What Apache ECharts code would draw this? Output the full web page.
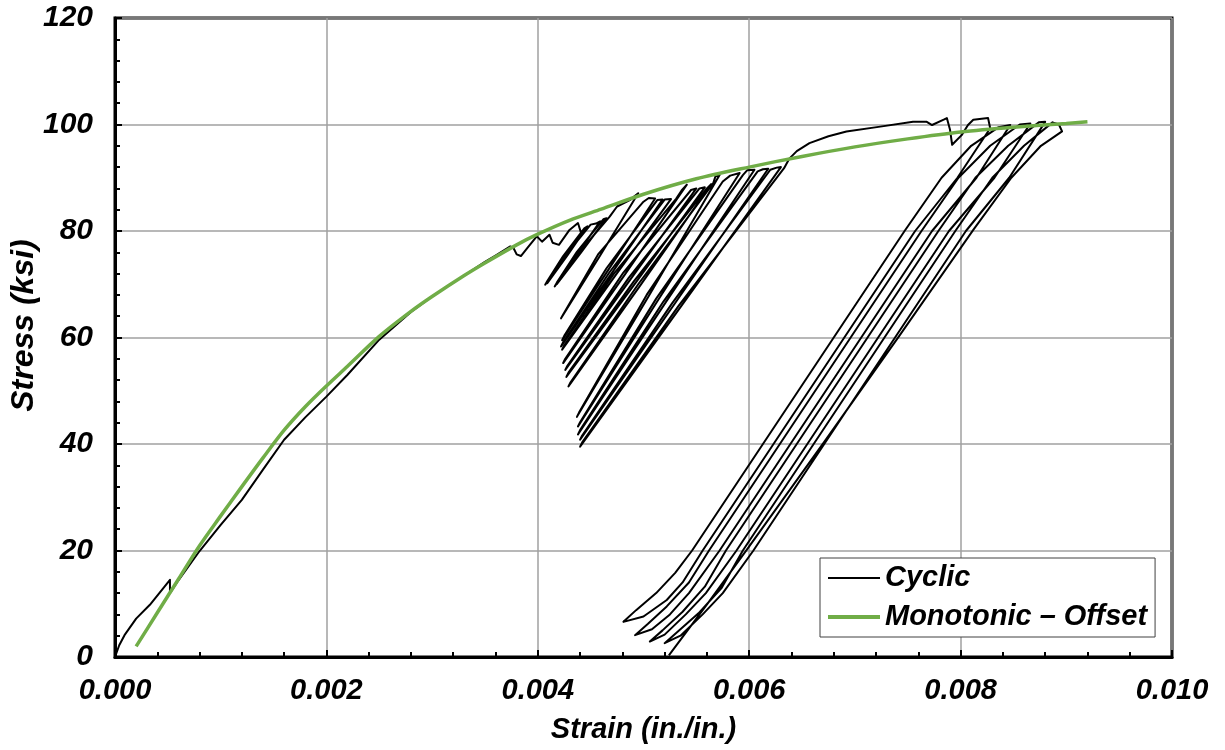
<!DOCTYPE html>
<html lang="en">

<head>
  <meta charset="UTF-8">
  <title>Stress-Strain</title>
  <script src="https://cdn.jsdelivr.net/npm/echarts@6/dist/echarts.min.js"></script>
</head>

<body style="margin: 0;padding: 0;background: #fff;">
  <div id="main" style="width: 1225px;height: 750px;"></div>
  <script>
    // [strain, stress] pairs
    var monotonic = [
      [0.0002, 2.0], [0.0004, 8.3], [0.0006, 14.6], [0.0008, 20.9], [0.001, 26.5], [0.0012, 32.0],
      [0.0014, 37.4], [0.0016, 42.6], [0.0018, 47.0], [0.002, 50.9], [0.0022, 54.6], [0.0025, 60.2],
      [0.0028, 64.9], [0.003, 67.7], [0.0033, 71.6], [0.0035, 74.0], [0.0038, 77.4], [0.004, 79.4],
      [0.0043, 82.0], [0.0046, 84.1], [0.005, 86.9], [0.0055, 89.8], [0.006, 92.0], [0.0065, 94.0],
      [0.007, 95.8], [0.0075, 97.3], [0.008, 98.6], [0.0085, 99.5], [0.009, 100.2], [0.0092, 100.5]
    ];

    var cyclicInitial = [
      [0, 0], [0.00004, 2.2], [0.00009, 4.1], [0.0002, 7.2], [0.00033, 9.8], [0.00052, 14.5], [0.00052, 12.0],
      [0.0006, 14.4], [0.0008, 19.9], [0.001, 24.8], [0.0012, 29.5], [0.0014, 35.2], [0.0016, 40.8],
      [0.0018, 45.0], [0.002, 48.9], [0.0022, 53.0], [0.0025, 59.6], [0.0028, 64.8], [0.003, 67.7],
      [0.0033, 71.6], [0.0035, 74.2], [0.0036, 75.4], [0.00374, 77.1], [0.00377, 76.8], [0.0038, 75.6],
      [0.00384, 75.3], [0.0039, 76.8], [0.00399, 79.0], [0.00404, 78.0], [0.00411, 79.3], [0.00414, 77.8],
      [0.0042, 77.4], [0.0043, 80.2], [0.00438, 81.5], [0.00441, 79.6]
    ];

    var cyclicGroup1 = [
      [0.00425, 75.0], [0.00407, 69.9], [0.00409, 70.6], [0.00424, 75.3], [0.00444, 80.5],
      [0.00447, 80.9], [0.00428, 75.4], [0.00409, 70.2], [0.00411, 70.9], [0.00427, 75.6], [0.0045, 81.2],
      [0.00455, 81.4], [0.00459, 81.8], [0.00438, 75.9], [0.00416, 69.6], [0.00418, 70.3], [0.00437, 76.1], [0.00462, 82.2],
      [0.00465, 82.4], [0.00441, 76.0], [0.00418, 70.0], [0.0042, 70.7], [0.0044, 76.2], [0.00468, 82.7],
      [0.00475, 84.6], [0.00487, 85.8], [0.00495, 87.1]
    ];

    var cyclicGroup2 = [
      [0.00459, 75.4], [0.00422, 63.6], [0.00424, 64.3], [0.00457, 75.6], [0.005, 85.5],
      [0.00505, 86.2], [0.00511, 86.1], [0.00467, 72.8], [0.00423, 59.5], [0.00425, 60.3], [0.00465, 73.0], [0.00513, 85.8],
      [0.00518, 85.9], [0.0047, 72.1], [0.00422, 58.3], [0.00424, 59.1], [0.00468, 72.3], [0.0052, 85.9],
      [0.00526, 86.0], [0.00474, 71.8], [0.00423, 57.7], [0.00425, 58.5], [0.00472, 72.0], [0.00531, 86.1],
      [0.00536, 87.6], [0.00541, 88.7]
    ];

    var cyclicGroup3 = [
      [0.00483, 72.0], [0.00424, 55.2], [0.00426, 56.0], [0.00481, 72.2], [0.00545, 87.7],
      [0.0055, 88.0], [0.00488, 71.0], [0.00426, 53.9], [0.00428, 54.7], [0.00486, 71.2], [0.00553, 88.0],
      [0.00558, 88.2], [0.00493, 70.4], [0.00427, 52.6], [0.00429, 53.4], [0.00491, 70.6], [0.0056, 88.0],
      [0.00564, 88.8], [0.00497, 69.8], [0.00429, 50.8], [0.00431, 51.6], [0.00495, 70.0], [0.00566, 89.0],
      [0.00568, 90.2], [0.00572, 90.5]
    ];

    var cyclicGroup4 = [
      [0.00505, 67.8], [0.00437, 45.1], [0.00439, 45.9], [0.00503, 68.0], [0.00575, 89.3],
      [0.00582, 90.4], [0.00591, 90.9], [0.00514, 67.1], [0.00438, 43.3], [0.0044, 44.1], [0.00512, 67.3], [0.00594, 90.5],
      [0.00598, 91.4], [0.00605, 91.5], [0.00521, 66.6], [0.00438, 41.8], [0.0044, 42.6], [0.00519, 66.8], [0.00608, 91.2],
      [0.00613, 91.6], [0.00618, 91.7], [0.00529, 66.2], [0.0044, 40.8], [0.00442, 41.6], [0.00527, 66.4], [0.0062, 91.5],
      [0.00626, 91.9], [0.0063, 92.0], [0.00535, 65.7], [0.0044, 39.5], [0.00442, 40.3], [0.00533, 65.9], [0.00633, 91.8]
    ];

    var cyclicUpper = [
      [0.00638, 93.6], [0.00645, 95.0], [0.00657, 96.5], [0.00675, 97.8], [0.00692, 98.7], [0.00724, 99.6],
      [0.00755, 100.5], [0.00768, 100.5], [0.00773, 99.9], [0.00784, 100.9], [0.00787, 101.2], [0.0079, 99.0],
      [0.00792, 96.2], [0.00795, 96.8], [0.00801, 98.0], [0.00807, 99.9], [0.00812, 100.9], [0.00826, 101.2], [0.00828, 99.3]
    ];

    var cyclicLoops = [
      // loop 1 down, back up
      [0.00797, 90], [0.00757, 80], [0.0069, 60], [0.00623, 40], [0.00556, 20], [0.00537, 14], [0.00522, 10.7], [0.005, 7.6], [0.00481, 6.6],
      [0.00493, 8.8], [0.00512, 12], [0.0053, 15.8], [0.00546, 20], [0.00613, 40], [0.0068, 60], [0.00747, 80], [0.00782, 90], [0.0081, 96], [0.00836, 99.5],
      [0.00847, 99.9],
      // loop 2
      [0.00815, 90], [0.00773, 80], [0.00706, 60], [0.00639, 40], [0.00572, 20], [0.00543, 12], [0.00525, 8], [0.00508, 5.2], [0.00492, 4.1],
      [0.00504, 6.2], [0.00522, 9.5], [0.00543, 14], [0.00562, 20], [0.00629, 40], [0.00696, 60], [0.00763, 80], [0.00798, 90], [0.00828, 96], [0.00856, 100.0],
      [0.00866, 100.2],
      // loop 3
      [0.00832, 90], [0.00789, 80], [0.00722, 60], [0.00655, 40], [0.00588, 20], [0.00559, 12], [0.0054, 8], [0.0052, 4.2], [0.00506, 2.9],
      [0.00518, 5.0], [0.00537, 8.5], [0.00558, 13.2], [0.00578, 20], [0.00645, 40], [0.00712, 60], [0.00779, 80], [0.00814, 90], [0.00845, 96], [0.00874, 100.4],
      [0.0088, 100.5],
      // loop 4
      [0.00846, 90], [0.00805, 80], [0.00738, 60], [0.00671, 40], [0.00604, 20], [0.00575, 12], [0.00556, 8], [0.00535, 4.0], [0.0052, 2.6],
      [0.00532, 4.7], [0.00552, 8.2], [0.00574, 13], [0.00594, 20], [0.00661, 40], [0.00728, 60], [0.00795, 80], [0.0083, 90], [0.0086, 96], [0.00887, 100.4]
    ];

    var cyclicFinal = [
      [0.00893, 100.0], [0.00896, 98.7], [0.00876, 96], [0.00848, 90], [0.00812, 80.2], [0.00742, 60.3],
      [0.00671, 40.4], [0.00599, 20.5], [0.00562, 10.4], [0.00524, 0.3]
    ];

    var cyclic = [].concat(cyclicInitial, cyclicGroup1, cyclicGroup2, cyclicGroup3,
      cyclicGroup4, cyclicUpper, cyclicLoops, cyclicFinal);

    var font = 'Liberation Sans, Arial, sans-serif';
    function boldItalic(size) {
      return { fontSize: size, fontWeight: 'bold', fontStyle: 'italic', fontFamily: font, color: '#000' };
    }

    var chartDom = document.getElementById('main');
    var myChart = echarts.init(chartDom);
    var option = {
      animation: false,
      backgroundColor: '#fff',
      grid: {
        left: 115, right: 53, top: 18, bottom: 93,
        outerBoundsMode: 'none',
        containLabel: false,
        show: true, borderColor: '#000', borderWidth: 3
      },
      legend: {
        orient: 'vertical',
        left: 820, top: 558,
        data: [
          { name: 'Cyclic', icon: 'path://M0,0H52V2H0Z' },
          { name: 'Monotonic – Offset', icon: 'path://M0,0H52V4H0Z' }
        ],
        itemWidth: 52, itemHeight: 14, itemGap: 5,
        itemStyle: { borderWidth: 0 },
        padding: [3, 8, 3, 8],
        borderColor: '#404040', borderWidth: 1,
        backgroundColor: '#fff',
        textStyle: Object.assign({ lineHeight: 34 }, boldItalic(29))
      },
      xAxis: {
        type: 'value',
        min: 0, max: 0.01, interval: 0.002,
        name: 'Strain (in./in.)',
        nameLocation: 'middle', nameGap: 58,
        nameMoveOverlap: false,
        nameTextStyle: boldItalic(29),
        axisLine: { lineStyle: { color: '#000', width: 3 } },
        axisTick: { inside: true, length: 7, lineStyle: { color: '#000', width: 2 } },
        minorTick: { show: true, splitNumber: 5, length: 5, lineStyle: { color: '#000', width: 2 } },
        axisLabel: Object.assign({ margin: 19, formatter: function (v) { return v.toFixed(3); } }, boldItalic(29)),
        splitLine: { lineStyle: { color: '#a0a0a0', width: 1.5 } }
      },
      yAxis: {
        type: 'value',
        min: 0, max: 120, interval: 20,
        name: 'Stress (ksi)',
        nameLocation: 'middle', nameGap: 75,
        nameMoveOverlap: false,
        nameTextStyle: Object.assign({ padding: [0, 0, 0, 24] }, boldItalic(32)),
        axisLine: { lineStyle: { color: '#000', width: 3 } },
        axisTick: { inside: true, length: 7, lineStyle: { color: '#000', width: 2 } },
        minorTick: { show: true, splitNumber: 5, length: 5, lineStyle: { color: '#000', width: 2 } },
        axisLabel: Object.assign({ margin: 22 }, boldItalic(30)),
        splitLine: { lineStyle: { color: '#a0a0a0', width: 1.5 } }
      },
      series: [
        {
          name: 'Cyclic',
          type: 'line',
          data: cyclic,
          symbol: 'none',
          color: '#000',
          lineStyle: { color: '#000', width: 2, join: 'round' }
        },
        {
          name: 'Monotonic – Offset',
          type: 'line',
          data: monotonic,
          symbol: 'none',
          smooth: 0.3,
          color: '#70ad47',
          lineStyle: { color: '#70ad47', width: 3.5 }
        }
      ]
    };

    option && myChart.setOption(option);
  </script>
</body>

</html>
